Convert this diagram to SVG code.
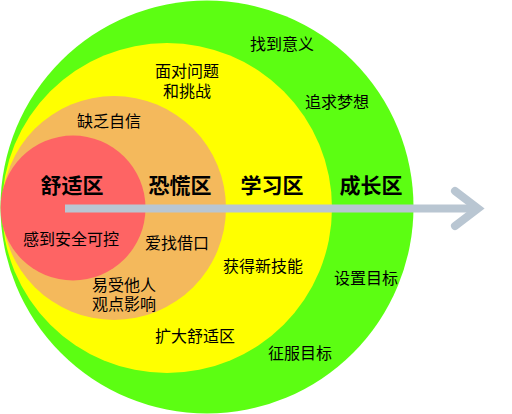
<svg xmlns="http://www.w3.org/2000/svg" width="512" height="414" viewBox="0 0 512 414">
<style>
text{font-family:"Noto Sans CJK SC","Noto Sans",sans-serif;fill:#000;text-anchor:middle}
.t{font-size:21px;font-weight:bold}
.s{font-size:16px}
.arr{stroke:#b9c6d2;stroke-width:8;fill:none}
</style>
<rect width="512" height="414" fill="#fff"/>
<g id="growth">
<circle cx="207" cy="207" r="206.5" fill="#5cfe12"/>
</g>
<g id="learning">
<circle cx="167" cy="208" r="165" fill="#ffff00"/>
</g>
<g id="panic">
<circle cx="114" cy="208" r="112" fill="#f4b95c"/>
</g>
<g id="comfort">
<circle cx="73" cy="208" r="72.5" fill="#fe6464"/>
</g>
<g id="connectors">
<line class="arr" x1="65" y1="208.5" x2="476" y2="208.5" stroke-linecap="butt"/>
<polyline class="arr" points="455,191 478,208.5 455,226" stroke-linecap="round" stroke-linejoin="miter"/>
</g>
<g id="labels">
<text class="t" x="72" y="192.5">舒适区</text>
<text class="t" x="180" y="192.5">恐慌区</text>
<text class="t" x="272" y="192.5">学习区</text>
<text class="t" x="371" y="192.5">成长区</text>
<text class="s" x="282" y="50">找到意义</text>
<text class="s" x="187" y="77">面对问题</text>
<text class="s" x="187" y="97">和挑战</text>
<text class="s" x="337" y="108">追求梦想</text>
<text class="s" x="109" y="127">缺乏自信</text>
<text class="s" x="71" y="245">感到安全可控</text>
<text class="s" x="177" y="249">爱找借口</text>
<text class="s" x="263" y="272">获得新技能</text>
<text class="s" x="124" y="291">易受他人</text>
<text class="s" x="124" y="310">观点影响</text>
<text class="s" x="366" y="284">设置目标</text>
<text class="s" x="195" y="342">扩大舒适区</text>
<text class="s" x="300" y="359">征服目标</text>
</g>
</svg>
